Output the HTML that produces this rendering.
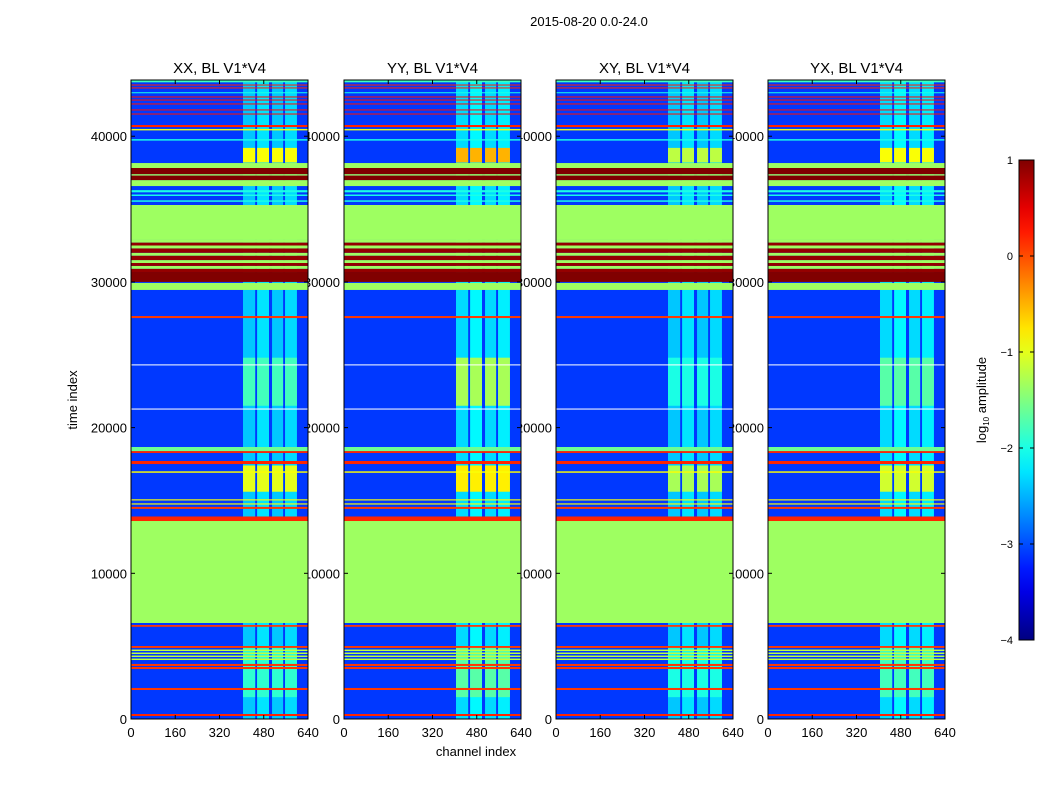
<!DOCTYPE html>
<html><head><meta charset="utf-8">
<style>
html,body{margin:0;padding:0;background:#fff;}
svg{display:block;font-family:"Liberation Sans",sans-serif;}
</style></head>
<body>
<svg id="fig" width="1050" height="800" viewBox="0 0 1050 800">
<defs><linearGradient id="jetgrad" x1="0" y1="1" x2="0" y2="0"></linearGradient></defs>
<text x="589" y="26" font-size="13" text-anchor="middle">2015-08-20 0.0-24.0</text>
<text x="476" y="756" font-size="13" text-anchor="middle">channel index</text>
<text x="0" y="0" font-size="13" text-anchor="middle" transform="translate(77,400) rotate(-90)">time index</text>
<g id="labels"></g>
<g id="panels"></g>
<g id="cbar"></g>
</svg>
<script>
const panelTitles = ["XX, BL V1*V4","YY, BL V1*V4","XY, BL V1*V4","YX, BL V1*V4"];
const yTicks = [0,10000,20000,30000,40000];
const xTicks = [0,160,320,480,640];
const cbarTicks = [1,0,-1,-2,-3,-4];
const cbarTickLabels = ["1","0","\u22121","\u22122","\u22123","\u22124"];
const backgroundValue = -3.1;
// flagged / striped time bands (time index start, end, log10 amplitude; null = missing)
const bandStart = [206,1990,3430,3640,4049,4255,4461,4667,4880,6330,6590,13590,14420,14720,15000,16900,17500,18260,18390,21240,24270,27520,29450,30000,30680,30900,31100,31300,31500,31800,32000,32300,32500,32700,32880,35500,35900,36150,36580,36990,37300,37400,37820,39700,40400,40630,41490,41770,42180,42450,42660,42950,43280,43480,43700];
const bandEnd   = [343,2130,3570,3780,4149,4355,4561,4767,5010,6450,13590,13900,14560,14800,15080,17000,17710,18390,18670,21310,24340,27660,29930,30680,30900,31100,31300,31500,31800,32000,32300,32500,32700,32880,35280,35600,36000,36300,36990,37300,37400,37820,38160,39800,40500,40770,41560,41840,42250,42520,42730,43020,43350,43550,43860];
const bandValue = [0.2,0.1,0.1,0.1,-1.2,-1.2,-1.2,-1.2,0.1,0.1,-1.35,0.2,0.1,-0.9,-0.9,-0.9,0.2,0.2,-1.6,null,null,0.1,-1.35,1.0,0.9,-1.35,0.9,-1.35,0.9,-1.35,0.9,-1.35,0.9,-1.35,-1.35,-2.0,-2.0,-2.0,-1.35,1.0,-1.35,1.0,-1.35,-2.0,-1.0,0.2,0.3,0.3,0.3,0.3,0.3,-2.0,0.2,0.2,-1.8];
// bright RFI channel columns
const colStart = [405,456,510,557];
const colEnd   = [449,499,550,600];
const colValue = [-2.4,-2.25,-2.4,-2.3];
// brighter blocks inside columns (time ranges) per panel
const blockStart = [15600,38200,21500,1500];
const blockEnd   = [17400,39200,24800,5000];
const blockValue = [[-1.0,-0.9,-1.8,-1.9],[-0.8,-0.5,-1.3,-1.7],[-1.3,-1.2,-2.0,-2.0],[-1.1,-0.9,-1.7,-1.8]];

const panelLeft = [131,344,556,768], panelW = 177, plotTop = 80, plotBottom = 719;
const tMax = 43860, chMax = 640, vMin = -4, vMax = 1;
const NS = "http://www.w3.org/2000/svg";
function yScale(t){ return plotBottom - t/tMax*(plotBottom-plotTop); }
function xScale(p,c){ return panelLeft[p] + c/chMax*panelW; }
function jet(v){
  const x = Math.max(0,Math.min(1,(v-vMin)/(vMax-vMin)));
  const c = f => Math.round(255*Math.max(0,Math.min(1,f)));
  return `rgb(${c(1.5-Math.abs(4*x-3))},${c(1.5-Math.abs(4*x-2))},${c(1.5-Math.abs(4*x-1))})`;
}
function mk(tag, attrs, parent){ const e=document.createElementNS(NS,tag); for(const k in attrs) e.setAttribute(k,attrs[k]); parent.appendChild(e); return e; }

const labels = document.getElementById('labels');
const panels = document.getElementById('panels');
panelLeft.forEach((L,p)=>{
  yTicks.forEach(t=>{
    const tx = mk('text',{x:L-4,y:yScale(t)+5,'font-size':13,'text-anchor':'end'},labels);
    tx.textContent = t;
    
    
  });
  xTicks.forEach(c=>{
    const tx = mk('text',{x:xScale(p,c),y:737,'font-size':13,'text-anchor':'middle'},labels);
    tx.textContent = c;
    
    
  });
  const tt = mk('text',{x:L+panelW/2,y:73,'font-size':15,'text-anchor':'middle'},labels);
  tt.textContent = panelTitles[p];
  
  
});
panelLeft.forEach((L,p)=>{
  const g = mk('g',{},panels);
  
  
  mk('rect',{x:L,y:plotTop,width:panelW,height:plotBottom-plotTop,fill:jet(backgroundValue)},g);
  colStart.forEach((c,i)=>{
    const r = mk('rect',{x:xScale(p,c),y:plotTop,width:xScale(p,colEnd[i])-xScale(p,c),height:plotBottom-plotTop,fill:jet(colValue[i]+(p%2?0.1:0))},g);
    
    
    blockStart.forEach((t,j)=>{
      const b = mk('rect',{x:xScale(p,c),y:yScale(blockEnd[j]),width:xScale(p,colEnd[i])-xScale(p,c),height:yScale(t)-yScale(blockEnd[j]),fill:jet(blockValue[p][j])},g);
      
      
    });
  });
  bandStart.forEach((t,i)=>{
    const v = bandValue[i];
    const r = mk('rect',{x:L,y:yScale(bandEnd[i]),width:panelW,height:Math.max(1,yScale(t)-yScale(bandEnd[i])),fill:v===null?'#fff':jet(v)},g);
    
    
  });
  mk('rect',{x:L,y:plotTop,width:panelW,height:plotBottom-plotTop,fill:'none',stroke:'#000','stroke-width':1},g);
  yTicks.forEach(t=>{
    const y=yScale(t);
    mk('line',{x1:L,x2:L+4,y1:y,y2:y,stroke:'#000'},g);
    mk('line',{x1:L+panelW-4,x2:L+panelW,y1:y,y2:y,stroke:'#000'},g);
  });
  xTicks.forEach(c=>{
    const x=xScale(p,c);
    mk('line',{x1:x,x2:x,y1:plotBottom,y2:plotBottom-4,stroke:'#000'},g);
    mk('line',{x1:x,x2:x,y1:plotTop,y2:plotTop+4,stroke:'#000'},g);
  });
});
// colorbar
const grad = document.getElementById('jetgrad');
for(let i=0;i<=20;i++){ mk('stop',{offset:(i/20),'stop-color':jet(vMin+i/20*(vMax-vMin))},grad); }
const cb = document.getElementById('cbar');
const cbTop=160, cbBot=640, cbX=1019, cbW=15;
const cbr = mk('rect',{x:cbX,y:cbTop,width:cbW,height:cbBot-cbTop,fill:'url(#jetgrad)',stroke:'#000'},cb);


cbarTicks.forEach((v,i)=>{
  const y = cbBot - (v-vMin)/(vMax-vMin)*(cbBot-cbTop);
  mk('line',{x1:cbX,x2:cbX+4,y1:y,y2:y,stroke:'#000'},cb);
  mk('line',{x1:cbX+cbW-4,x2:cbX+cbW,y1:y,y2:y,stroke:'#000'},cb);
  const tx = mk('text',{x:1013,y:y+4,'font-size':11,'text-anchor':'end'},cb);
  tx.textContent = cbarTickLabels[i];
  
  
});
const cl = mk('text',{transform:'translate(986,400) rotate(-90)','font-size':13,'text-anchor':'middle'},cb);
cl.innerHTML = 'log<tspan font-size="8" dy="3">10</tspan><tspan dy="-3"> amplitude</tspan>';


</script>
</body></html>
